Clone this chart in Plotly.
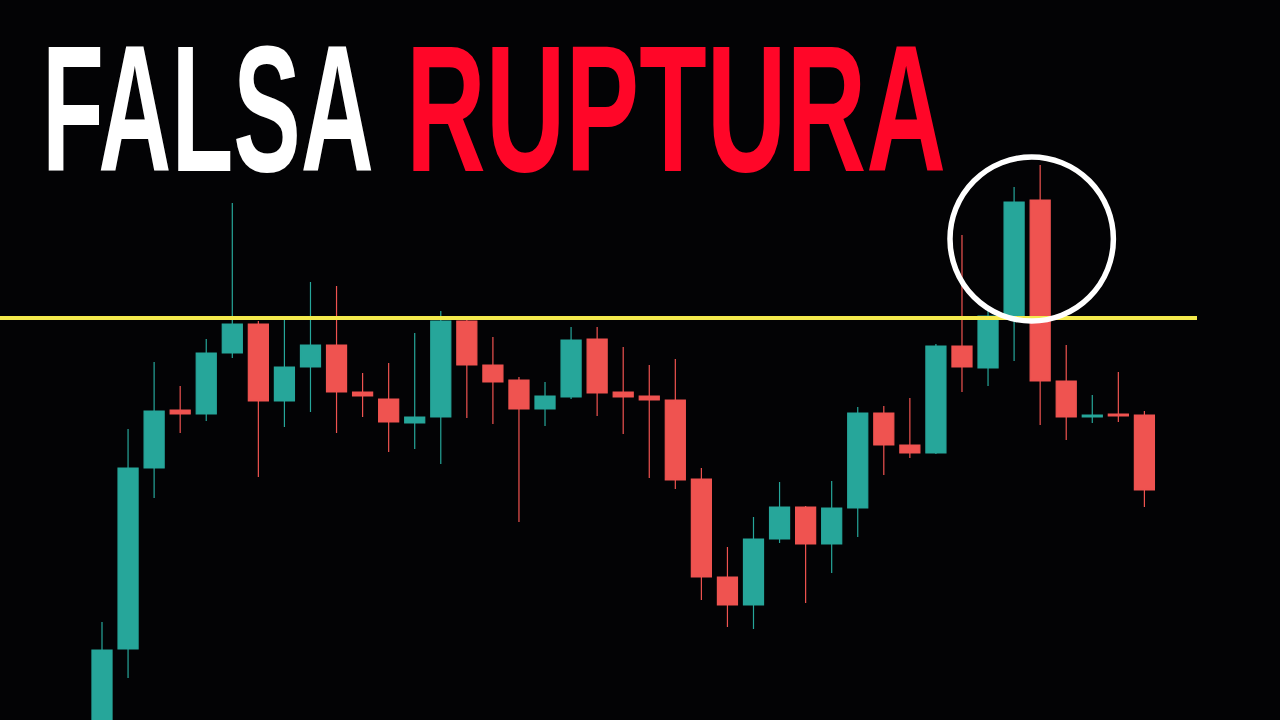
import plotly.graph_objects as go

# Candle data (price units)
candle_idx = list(range(41))
open_ = [-20, 71, 252, 310, 306, 367, 396, 319, 353, 375, 328, 321, 297, 303, 399, 355, 340, 311, 323, 381,
         328, 324, 320, 241, 143, 115, 181, 213, 176, 212, 307, 275, 267, 374, 352, 404, 520, 339, 303, 306, 305]
high = [98, 291, 358, 334, 381, 517, 399, 404, 438, 434, 347, 357, 387, 409, 404, 383, 343, 338, 393, 393,
        373, 355, 361, 252, 173, 203, 238, 214, 239, 313, 314, 322, 376, 485, 410, 533, 555, 375, 325, 348, 309]
low = [-40, 42, 222, 287, 299, 362, 243, 293, 308, 287, 303, 268, 271, 256, 302, 296, 198, 294, 321, 304,
       286, 242, 231, 120, 93, 91, 177, 117, 147, 183, 245, 262, 266, 328, 334, 359, 295, 280, 297, 298, 213]
close = [70, 252, 309, 306, 367, 396, 319, 353, 375, 328, 324, 298, 303, 399, 355, 338, 311, 324, 380, 327,
         323, 320, 240, 143, 115, 181, 213, 176, 212, 307, 275, 267, 374, 353, 404, 518, 339, 303, 305, 304, 230]

resistance_level = 402
breakout_circle_x = (32.54, 38.81)
breakout_circle_y = (399, 563)

title_left = "FALSA"
title_right = "RUPTURA"

UP = "#26a69a"
DOWN = "#ef5350"
BG = "#030305"

fig = go.Figure()
fig.add_trace(go.Candlestick(
    x=candle_idx, open=open_, high=high, low=low, close=close,
    increasing=dict(line=dict(color=UP, width=1.2), fillcolor=UP),
    decreasing=dict(line=dict(color=DOWN, width=1.2), fillcolor=DOWN),
    whiskerwidth=0, hoverinfo="skip", showlegend=False,
))

# Resistance line
fig.add_shape(type="line", xref="paper", yref="y", x0=0, x1=1197 / 1280,
              y0=resistance_level, y1=resistance_level,
              line=dict(color="#f4ea4c", width=4), layer="above")

# Circle around false breakout
fig.add_shape(type="circle", xref="x", yref="y",
              x0=breakout_circle_x[0], x1=breakout_circle_x[1],
              y0=breakout_circle_y[0], y1=breakout_circle_y[1],
              line=dict(color="#ffffff", width=5.5), layer="above")

title_font = "Liberation Sans, Arial, sans-serif"
fig.add_annotation(text=f"<b>{title_left}</b>", xref="paper", yref="paper",
                   x=40 / 1280, y=0.849, xanchor="left", yanchor="middle",
                   showarrow=False, font=dict(family=title_font, size=180, color="#ffffff"))
fig.add_annotation(text=f"<b>{title_right}</b>", xref="paper", yref="paper",
                   x=948 / 1280, y=0.849, xanchor="right", yanchor="middle",
                   showarrow=False, font=dict(family=title_font, size=180, color="#ff0628"))

fig.update_layout(
    width=1280, height=720,
    margin=dict(l=0, r=0, t=0, b=0),
    paper_bgcolor=BG, plot_bgcolor=BG,
    boxgap=0.23, boxgroupgap=0,
    hovermode=False,
    xaxis=dict(range=[-102 / 26.06, (1280 - 102) / 26.06], visible=False,
               rangeslider=dict(visible=False), fixedrange=True),
    yaxis=dict(range=[0, 720], visible=False, fixedrange=True),
)

# Remove page margin and squeeze the headline horizontally (condensed look)
post = """
document.body.style.margin = '0';
document.body.style.background = '%s';
var gd = document.getElementById('{plot_id}');
var targets = [[332, 'left'], [540, 'right']];
gd.querySelectorAll('g.annotation').forEach(function(g) {
  var idx = parseInt(g.getAttribute('data-index'));
  var t = g.querySelector('text.annotation-text');
  if (!t || !targets[idx]) return;
  var w = t.getBBox().width;
  var s = targets[idx][0] / w;
  t.style.transformBox = 'fill-box';
  t.style.transformOrigin = targets[idx][1] + ' center';
  t.style.transform = 'scaleX(' + s + ')';
});
""" % BG

fig.write_html("out.html", post_script=post, config={"displayModeBar": False})
